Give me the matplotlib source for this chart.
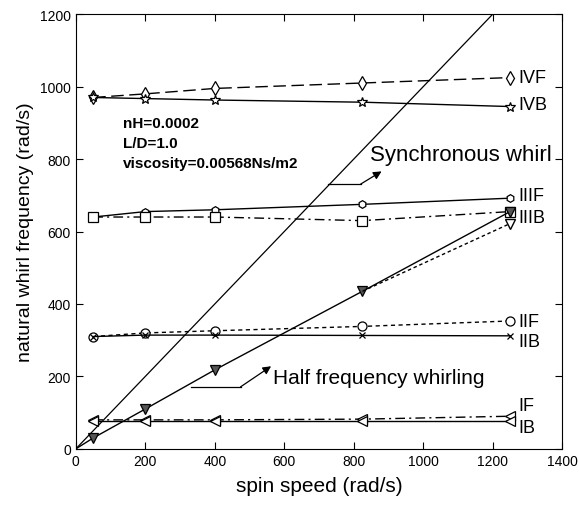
import matplotlib
matplotlib.use('Agg')
import matplotlib.pyplot as plt

plt.rcParams['font.family'] = ['Liberation Sans', 'DejaVu Sans']

# spin speeds where the modes were computed (rad/s)
speed = [50, 200, 400, 825, 1250]

# natural whirl frequencies (rad/s)
ivf = [970, 980, 995, 1010, 1025]
ivb = [970, 967, 963, 957, 945]
iiif = [640, 655, 660, 675, 692]
iiib = [640, 640, 640, 630, 655]
iif = [310, 320, 326, 338, 353]
iib = [310, 314, 314, 313, 312]
i_f = [80, 80, 80, 82, 90]
i_b = [78, 78, 78, 78, 78]

# half frequency whirling branch (starts at origin)
half_x = [0, 50, 200, 400, 825, 1250]
half_y = [0, 30, 110, 218, 435, 655]
half_dot_x = [825, 1250]
half_dot_y = [435, 622]

# synchronous whirl line
sync_x = [0, 1400]
sync_y = [0, 1400]

mode_labels = ['IVF', 'IVB', 'IIIF', 'IIIB', 'IIF', 'IIB', 'IF', 'IB']
label_y = [1025, 950, 700, 640, 352, 295, 120, 58]

fig = plt.figure(figsize=(5.79, 5.06), dpi=100)
ax = fig.add_axes([0.131, 0.111, 0.840, 0.859])

k = dict(color='black', lw=1.0, mfc='white', mec='black', mew=0.9)
ax.plot(speed, ivf, marker='d', ms=7, dashes=(9, 4), **k)
ax.plot(speed, ivb, marker='*', ms=7, ls='-', **k)
ax.plot(speed, iiif, marker='h', ms=5.5, ls='-', **k)
ax.plot(speed, iiib, marker='s', ms=6.5, dashes=(7, 3, 1.5, 3), **k)
ax.plot(speed, iif, marker='o', ms=6.5, dashes=(3, 2.5), **k)
ax.plot(speed, iib, marker='x', ms=4.5, ls='-', **k)
ax.plot(speed, i_f, marker='<', ms=7, dashes=(7, 3, 1.5, 3), **k)
ax.plot(speed, i_b, marker='<', ms=7, ls='-', **k)

ax.plot(half_x, half_y, color='black', lw=1.0)
ax.plot(half_x[1:], half_y[1:], ls='none', marker='v', ms=7,
        mfc='#555555', mec='black', mew=0.9)
ax.plot(half_dot_x, half_dot_y, color='black', lw=1.0, dashes=(2.5, 2),
        marker='v', ms=7, mfc='white', mec='black', markevery=[1])

ax.plot(sync_x, sync_y, color='black', lw=0.9)

# annotations with elbow arrows
ax.plot([726, 820], [731, 731], color='black', lw=0.9)
ax.annotate('', xy=(880, 766), xytext=(820, 731),
            arrowprops=dict(arrowstyle='-|>', color='black', lw=0.9,
                            mutation_scale=12, shrinkA=0, shrinkB=0))
ax.text(848, 812, 'Synchronous whirl', fontsize=16, va='center', ha='left')

ax.plot([331, 474], [171, 171], color='black', lw=0.9)
ax.annotate('', xy=(562, 228), xytext=(474, 171),
            arrowprops=dict(arrowstyle='-|>', color='black', lw=0.9,
                            mutation_scale=12, shrinkA=0, shrinkB=0))
ax.text(568, 198, 'Half frequency whirling', fontsize=15, va='center', ha='left')

ax.text(135, 918, 'nH=0.0002\nL/D=1.0\nviscosity=0.00568Ns/m2',
        fontsize=11, fontweight='bold', va='top', ha='left', linespacing=1.55)

for lab, yy in zip(mode_labels, label_y):
    ax.text(1275, yy, lab, fontsize=13, va='center', ha='left')

ax.set_xlim(0, 1400)
ax.set_ylim(0, 1200)
ax.set_xticks(range(0, 1401, 200))
ax.set_yticks(range(0, 1201, 200))
ax.tick_params(direction='in', top=True, right=True, labelsize=10, length=5)
ax.set_xlabel('spin speed (rad/s)', fontsize=15, labelpad=6)
ax.set_ylabel('natural whirl frequency (rad/s)', fontsize=14, labelpad=4)

fig.savefig('out.png', dpi=100)
